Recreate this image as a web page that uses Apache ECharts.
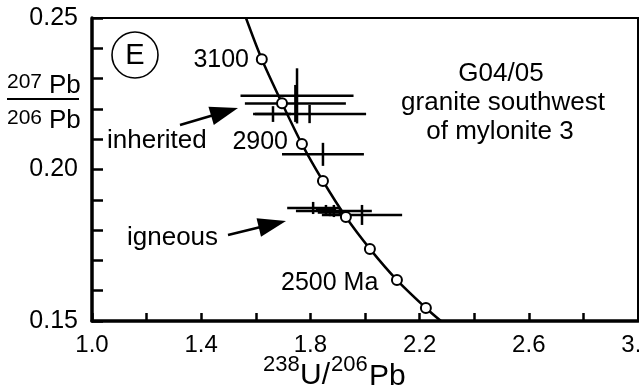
<!DOCTYPE html>
<html><head><meta charset="utf-8">
<script src="https://cdn.jsdelivr.net/npm/echarts@6/dist/echarts.min.js"></script>
<style>html,body{margin:0;padding:0;background:#fff}#c{width:639px;height:391px}</style>
</head><body><div id="c"></div>
<script>
// ---- data ----
const xTickLabels = ['1.0', '1.4', '1.8', '2.2', '2.6', '3.0'];
const yTickLabels = ['0.15', '0.20', '0.25'];

// concordia curve (238U/206Pb, 207Pb/206Pb); ages in Ma for the marked points
const concordiaX = [1.564, 1.622, 1.696, 1.769, 1.846, 1.930, 2.018, 2.117, 2.223, 2.278];
const concordiaY = [0.2500, 0.2364, 0.2219, 0.2084, 0.1962, 0.1843, 0.1738, 0.1635, 0.1543, 0.1500];
const concordiaAge = [null, 3100, 3000, 2900, 2800, 2700, 2600, 2500, 2400, null];

// analyses: centre and half error bars
const spotX    = [1.751, 1.745, 1.797, 1.663, 1.846, 1.810, 1.886, 1.989, 1.857, 1.908, 1.872];
const spotY    = [0.2243, 0.2218, 0.2183, 0.2183, 0.2050, 0.1873, 0.1863, 0.1850, 0.1866, 0.1860, 0.1858];
const spotErrX = [0.207, 0.185, 0.207, 0.066, 0.150, 0.095, 0.139, 0.147, 0.037, 0.030, 0.045];
const spotErrY = [0.0091, 0.0061, 0.0030, 0.0026, 0.0038, 0.0020, 0.0020, 0.0033, 0.0017, 0.0013, 0.0012];

// annotation arrows: tail -> tip
const arrowTailX = [1.3223, 1.4982];
const arrowTailY = [0.2147, 0.1784];
const arrowTipX  = [1.5348, 1.7106];
const arrowTipY  = [0.2203, 0.1830];

// ---- chart ----
const FONT = '"Liberation Sans", Arial, Helvetica, sans-serif';
const chart = echarts.init(document.getElementById('c'), null, {renderer: 'canvas'});

const curveData = concordiaX.map((x, i) => ({
  value: [x, concordiaY[i]],
  symbol: concordiaAge[i] === null ? 'none' : 'emptyCircle'
}));
const spotData = spotX.map((x, i) => [x, spotY[i], spotErrX[i], spotErrY[i]]);
const arrowData = arrowTailX.map((x, i) => [x, arrowTailY[i], arrowTipX[i], arrowTipY[i]]);

function txt(text, x, y, size, align) {
  return {
    type: 'text', x: x, y: y, silent: true,
    style: {text: text, fontSize: size, fontFamily: FONT, fill: '#000',
            align: align || 'left', verticalAlign: 'middle'}
  };
}

const option = {
  backgroundColor: '#fff',
  animation: false,
  grid: {left: 92, right: 1, top: 18, bottom: 70, show: true, outerBoundsMode: 'none', containLabel: false,
         borderColor: '#000', borderWidth: 2, backgroundColor: 'transparent'},
  xAxis: {
    type: 'value', min: 1, max: 3, interval: 0.2,
    axisLine: {onZero: false, lineStyle: {color: '#000', width: 3.5}},
    axisTick: {inside: true, length: 8, lineStyle: {color: '#000', width: 2.5}},
    splitLine: {show: false},
    axisLabel: {
      color: '#000', fontSize: 24, fontFamily: FONT, margin: 12,
      showMinLabel: true, showMaxLabel: true, hideOverlap: false,
      formatter: v => { const s = v.toFixed(1); return xTickLabels.includes(s) ? s : ''; }
    }
  },
  yAxis: {
    type: 'value', min: 0.15, max: 0.25, interval: 0.01,
    axisLine: {onZero: false, lineStyle: {color: '#000', width: 3.5}},
    axisTick: {inside: true, length: 11, lineStyle: {color: '#000', width: 2.5}},
    splitLine: {show: false},
    axisLabel: {
      color: '#000', fontSize: 25, fontFamily: FONT, margin: 14,
      showMinLabel: true, showMaxLabel: true, hideOverlap: false,
      formatter: v => { const s = v.toFixed(2); return yTickLabels.includes(s) ? s : ''; }
    }
  },
  series: [
    {
      type: 'custom', name: 'spots', z: 2,
      data: spotData,
      encode: {x: 0, y: 1},
      renderItem: (params, api) => {
        const x = api.value(0), y = api.value(1), dx = api.value(2), dy = api.value(3);
        const l = api.coord([x - dx, y]), r = api.coord([x + dx, y]);
        const t = api.coord([x, y + dy]), b = api.coord([x, y - dy]);
        const st = {stroke: '#000', lineWidth: 2.5};
        return {type: 'group', children: [
          {type: 'line', shape: {x1: l[0], y1: l[1], x2: r[0], y2: r[1]}, style: st},
          {type: 'line', shape: {x1: t[0], y1: t[1], x2: b[0], y2: b[1]}, style: st}
        ]};
      }
    },
    {
      type: 'line', name: 'concordia', z: 5,
      data: curveData,
      smooth: 0.3,
      showAllSymbol: true,
      symbolSize: 10,
      lineStyle: {color: '#000', width: 2.5},
      itemStyle: {color: '#000', borderColor: '#000', borderWidth: 3},
      emphasis: {disabled: true}
    },
    {
      type: 'custom', name: 'arrows', z: 4,
      data: arrowData,
      encode: {x: [0, 2], y: [1, 3]},
      renderItem: (params, api) => {
        const p0 = api.coord([api.value(0), api.value(1)]);
        const p1 = api.coord([api.value(2), api.value(3)]);
        const vx = p1[0] - p0[0], vy = p1[1] - p0[1];
        const len = Math.sqrt(vx * vx + vy * vy);
        const ux = vx / len, uy = vy / len;
        const L = 28, W = 9.5;
        const bx = p1[0] - ux * L, by = p1[1] - uy * L;
        const nx = -uy, ny = ux;
        return {type: 'group', children: [
          {type: 'line', shape: {x1: p0[0], y1: p0[1], x2: bx + ux * 2, y2: by + uy * 2},
           style: {stroke: '#000', lineWidth: 2.5}},
          {type: 'polygon', shape: {points: [[p1[0], p1[1]], [bx + nx * W, by + ny * W], [bx - nx * W, by - ny * W]]},
           style: {fill: '#000'}}
        ]};
      }
    }
  ],
  graphic: [
    // panel letter
    {type: 'circle', shape: {cx: 135, cy: 55, r: 23}, style: {fill: 'none', stroke: '#000', lineWidth: 1.6}, silent: true},
    txt('E', 135, 56, 29, 'center'),
    // age labels and annotations
    txt('3100', 249, 60, 25, 'right'),
    txt('2900', 288, 142, 25, 'right'),
    txt('2500 Ma', 281, 283, 25, 'left'),
    txt('inherited', 107, 141, 26, 'left'),
    txt('igneous', 127, 238, 26, 'left'),
    txt('G04/05', 501, 74, 26, 'center'),
    txt('granite southwest', 503, 103, 26, 'center'),
    txt('of mylonite 3', 500, 132, 26, 'center'),
    // y-axis title: fraction
    txt('207', 7, 82, 21, 'left'),
    txt('Pb', 49, 86, 26, 'left'),
    {type: 'line', shape: {x1: 7, y1: 99, x2: 79, y2: 99}, style: {stroke: '#000', lineWidth: 2}, silent: true},
    txt('206', 7, 118, 21, 'left'),
    txt('Pb', 49, 121, 26, 'left'),
    // x-axis title
    txt('238', 263, 365, 22, 'left'),
    txt('U/', 300, 376, 30, 'left'),
    txt('206', 331, 365, 22, 'left'),
    txt('Pb', 369, 377, 30, 'left')
  ]
};
chart.setOption(option);
</script>
</body></html>
